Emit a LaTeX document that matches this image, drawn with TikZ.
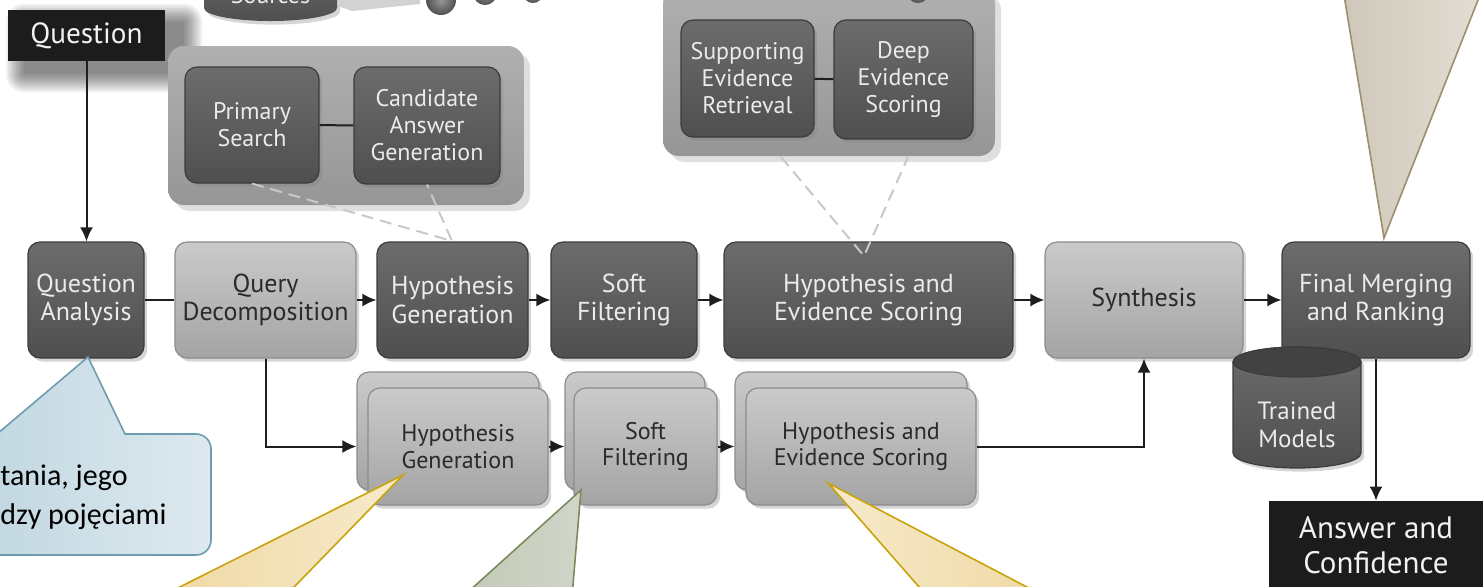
\documentclass[tikz,border=0pt]{standalone}
\usepackage{fontspec}
\setmainfont{PT Sans}
\newfontfamily\calfont{Carlito}
\usetikzlibrary{arrows.meta,shadows,calc}

\definecolor{dkTop}{HTML}{6C6C6C}
\definecolor{dkBot}{HTML}{4F4F4F}
\definecolor{dkLine}{HTML}{3C3C3C}
\definecolor{ltTop}{HTML}{CACACA}
\definecolor{ltBot}{HTML}{A4A4A4}
\definecolor{ltLine}{HTML}{8C8C8C}
\definecolor{ltText}{HTML}{2A2A2A}
\definecolor{pnTop}{HTML}{B0B0B0}
\definecolor{pnBot}{HTML}{969696}
\definecolor{lineC}{HTML}{1E1E1E}
\definecolor{blackBox}{HTML}{1C1C1C}
\definecolor{dashC}{HTML}{C8C8C8}
\definecolor{blueL}{HTML}{BCD4DE}
\definecolor{blueR}{HTML}{DDE9EF}
\definecolor{blueLine}{HTML}{6E9CAF}
\definecolor{yelL}{HTML}{EED69C}
\definecolor{yelR}{HTML}{F6EACB}
\definecolor{yelLine}{HTML}{C8A30C}
\definecolor{grnL}{HTML}{BFC7B4}
\definecolor{grnR}{HTML}{D0D6C8}
\definecolor{grnLine}{HTML}{7C8A60}
\definecolor{bgeL}{HTML}{CFC8BA}
\definecolor{bgeR}{HTML}{E2DDD3}
\definecolor{bgeLine}{HTML}{9C8F6E}

\begin{document}
\begin{tikzpicture}[x=0.5pt, y=-0.5pt,
  every node/.style={inner sep=0pt, align=center},
  % a node spanning the pixel box (x1,y1)--(x2,y2)
  box/.style n args={4}{at={({(#1+#3)/2},{(#2+#4)/2})},
    minimum width={(#3-#1)*0.5pt}, minimum height={(#4-#2)*0.5pt}},
  softshadow/.style={drop shadow={opacity=0.33, shadow xshift=1.6pt, shadow yshift=-1.8pt}},
  darkbox/.style={rounded corners=6pt, top color=dkTop, bottom color=dkBot,
    draw=dkLine, line width=0.6pt, text=white!92!black, softshadow},
  litebox/.style={rounded corners=6pt, top color=ltTop, bottom color=ltBot,
    draw=ltLine, line width=0.6pt, text=ltText, softshadow},
  panel/.style={rounded corners=8pt, top color=pnTop, bottom color=pnBot,
    drop shadow={opacity=0.25, shadow xshift=3pt, shadow yshift=-3pt}},
  mainfont/.style={font=\fontsize{13}{14.2}\selectfont},
  subfont/.style={font=\fontsize{12}{13.5}\selectfont},
  lowfont/.style={font=\fontsize{12}{13.4}\selectfont},
  conn/.style={draw=lineC, line width=1pt},
  arr/.style={draw=lineC, line width=1pt, -{Latex[length=7pt, width=6.5pt]}},
  dashline/.style={draw=dashC, line width=1pt, dash pattern=on 6pt off 3.5pt},
  callout/.style={line width=0.8pt}
]
\useasboundingbox (0,0) rectangle (1483,586);
\clip (0,0) rectangle (1483,586);

% ---- sources store and data balls along the top edge
\path[top color=dkTop, bottom color=dkBot, softshadow]
  (204,-40) -- (204,8) arc[start angle=180, end angle=0, x radius=66.5, y radius=13]
  -- (337,-40) -- cycle;
\node[anchor=base, text=white!92!black, subfont] (src) at (270.5,3) {Sources};
\fill[gray!35] (338,-5) -- (338,6) -- (352,11) -- (420,4) -- (420,-5) -- cycle;
\shade[inner color=gray!80, outer color=dkBot] (441,0) circle[radius=15];
\shade[inner color=gray!80, outer color=dkBot] (485,-7) circle[radius=12];
\shade[inner color=gray!80, outer color=dkBot] (533,-7) circle[radius=10];

% ---- question box with its soft shadow
\foreach \k in {0,...,9}
  \fill[black, opacity=0.06, rounded corners=\k pt]
    (24-2*\k, 22-2*\k) rectangle (184+2*\k, 74+2*\k);
\node[fill=blackBox, box={8}{10}{165}{61}, text=white!95!black,
  font=\fontsize{14.6}{16}\selectfont] (q) {Question};

% ---- search group
\node[panel, box={168}{46}{524}{205}] (tlp) {};
\node[darkbox, subfont, box={185}{67}{319}{183}] (ps) {Primary\\Search};
\node[darkbox, subfont, box={354}{67}{500}{184}] (cag) {Candidate\\Answer\\Generation};
\draw[conn] (ps) -- (cag);

% ---- evidence group
\node[panel, box={663}{-12}{995}{156}] (tmp) {};
\shade[inner color=gray!80, outer color=dkBot] (918,-8) circle[radius=11];
\node[darkbox, subfont, box={681}{20}{814}{137}] (ser) {Supporting\\Evidence\\Retrieval};
\node[darkbox, subfont, box={834}{20}{973}{139}] (des) {Deep\\Evidence\\Scoring};
\draw[conn] (ser) -- (des);

% ---- main pipeline row
\node[darkbox, mainfont, box={28}{242}{144}{358}] (qa) {Question\\Analysis};
\node[litebox, mainfont, box={175}{242}{356}{358}] (qd) {Query\\Decomposition};
\node[darkbox, mainfont, box={377}{242}{528}{358}] (hg) {Hypothesis\\Generation};
\node[darkbox, mainfont, box={551}{242}{697}{358}] (sf) {Soft\\Filtering};
\node[darkbox, mainfont, box={724}{242}{1013}{358}] (hes) {Hypothesis and\\Evidence Scoring};
\node[litebox, mainfont, box={1045}{242}{1243}{358}] (syn) {Synthesis};
\node[darkbox, mainfont, box={1282}{242}{1470}{358}] (fmr) {Final Merging\\and Ranking};

% ---- parallel (stacked) row
\node[litebox, box={357}{372}{539}{490}] (hgb) {};
\node[litebox, lowfont, box={368}{388}{548}{505}] (hgf) {Hypothesis\\Generation};
\node[litebox, box={565}{372}{705}{490}] (sfb) {};
\node[litebox, lowfont, box={574}{388}{717}{505}] (sff) {Soft\\Filtering};
\node[litebox, box={735}{372}{967}{490}] (hesb) {};
\node[litebox, lowfont, box={746}{388}{976}{505}] (hesf) {Hypothesis and\\Evidence Scoring};

% ---- trained models store
\path[top color=dkTop, bottom color=dkBot, draw=dkLine, line width=0.6pt, softshadow]
  (1233,362) -- (1233,453) arc[start angle=180, end angle=0, x radius=64, y radius=15]
  -- (1361,362) arc[start angle=0, end angle=-180, x radius=64, y radius=15] -- cycle;
\path[fill=gray!52!black, draw=dkLine, line width=0.6pt] (1297,362) ellipse[x radius=64, y radius=15];
\node[text=white!92!black, font=\fontsize{12.5}{14}\selectfont] (tm) at (1297,425) {Trained\\Models};

% ---- answer box
\node[fill=blackBox, box={1269}{501}{1483}{590}, text=white!95!black,
  font=\fontsize{15.5}{17.5}\selectfont] (ans) {Answer and\\Confidence};

% ---- connectors
\draw[arr] (q.south) -- (q.south |- qa.north);
\draw[conn] (qa) -- (qd);
\draw[arr] (qd) -- (hg);
\draw[arr] (hg) -- (sf);
\draw[arr] (sf) -- (hes);
\draw[arr] (hes) -- (syn);
\draw[arr] (syn) -- (fmr);
\draw[arr] (fmr.south) -- (ans.north);
\draw[arr] (qd.south) |- (hgf.west -| hgb.west);
\draw[arr] (hgf.east) -- (hgf.east -| sfb.west);
\draw[arr] (sff.east) -- (sff.east -| hesb.west);
\draw[arr] (hesf.east) -| (syn.south);

% ---- dashed expansion lines
\coordinate (hgV) at (452,241);
\draw[dashline] (ps.south) -- (hgV) -- (cag.south);
\coordinate (tmL) at (781,157);
\coordinate (tmR) at (908,157);
\coordinate (hesV) at (864,256);
\draw[dashline] (tmL) -- (hesV) -- (tmR);

% ---- callouts
\path[callout, draw=blueLine, left color=blueL, right color=blueR]
  (-60,434) -- (-3,434) -- (88,357) -- (125,434) -- (196,434)
  arc[start angle=-90, end angle=0, radius=15] -- (211,540)
  arc[start angle=0, end angle=90, radius=15] -- (-60,555) -- cycle;
\node[anchor=west, align=left, text=black, font=\calfont\fontsize{15}{19.5}\selectfont]
  (bt) at (0,497) {tania, jego\\dzy pojęciami};

\path[callout, draw=yelLine, left color=yelL, right color=yelR]
  (403,475) -- (114,620) -- (262,620) -- cycle;
\path[callout, draw=grnLine, left color=grnL, right color=grnR]
  (581,490) -- (437,620) -- (570,620) -- cycle;
\path[callout, draw=yelLine, left color=yelR, right color=yelL]
  (828,483) -- (948,620) -- (1090,620) -- cycle;
\path[callout, draw=bgeLine, left color=bgeL, right color=bgeR]
  (1344,-5) -- (1480,-5) -- (1384,238) -- cycle;
\end{tikzpicture}
\end{document}
